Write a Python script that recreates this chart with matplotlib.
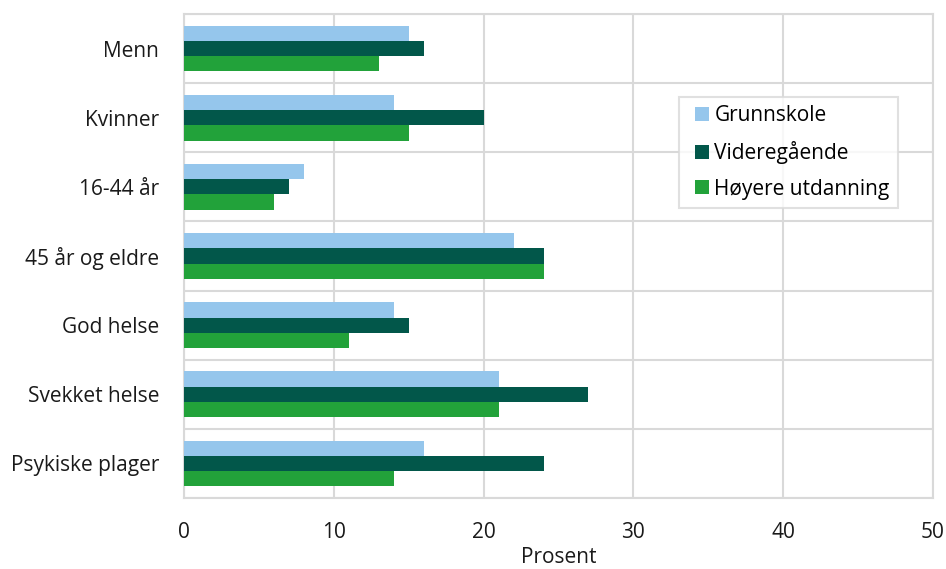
import numpy as np
import matplotlib
matplotlib.use("Agg")
import matplotlib.pyplot as plt
from matplotlib.patches import Rectangle
from matplotlib.container import BarContainer
from matplotlib.legend_handler import HandlerPatch

plt.rcParams["font.family"] = ["Open Sans", "DejaVu Sans"]

categories = ["Menn", "Kvinner", "16-44 år", "45 år og eldre",
              "God helse", "Svekket helse", "Psykiske plager"]
series = ["Grunnskole", "Videregående", "Høyere utdanning"]
grunnskole = [15, 14, 8, 22, 14, 21, 16]
videregaende = [16, 20, 7, 24, 15, 27, 24]
hoyere = [13, 15, 6, 24, 11, 21, 14]
colors = ["#95c6ec", "#02574a", "#22a23a"]
GRID = "#d9d9d9"
FS = 15


def square(legend, orig_handle, xdescent, ydescent, width, height, fontsize):
    sq = 10.0  # points, about 14 px
    return Rectangle((-xdescent + width - sq, -ydescent + (height - sq) / 2),
                     sq, sq)


fig = plt.figure(figsize=(9.46, 5.69), dpi=100)
ax = fig.add_axes([184 / 946, 1 - 498 / 569, (933 - 184) / 946, (498 - 14) / 569])

n = len(categories)
y = np.arange(n)
h = 0.22
for i, (vals, name) in enumerate(zip([grunnskole, videregaende, hoyere], series)):
    ax.barh(y + (i - 1) * h, vals, height=h, color=colors[i], label=name, zorder=3)

ax.set_ylim(n - 0.5, -0.5)
ax.set_xlim(0, 50)
ax.set_xticks(range(0, 51, 10))
ax.set_yticks(y)
ax.set_yticklabels(categories)
ax.set_yticks(np.arange(-0.5, n, 1), minor=True)
ax.grid(True, axis="x", which="major", color=GRID, lw=1.5, zorder=0)
ax.grid(True, axis="y", which="minor", color=GRID, lw=1.5, zorder=0)
ax.tick_params(axis="both", which="both", length=0, labelsize=FS, colors="#1a1a1a")
ax.tick_params(axis="x", pad=17)
ax.tick_params(axis="y", pad=18)
for s in ax.spines.values():
    s.set_color(GRID)
    s.set_linewidth(1.5)
ax.set_xlabel("Prosent", fontsize=FS, color="#1a1a1a", labelpad=3)

hm = {BarContainer: HandlerPatch(patch_func=square,
                                 update_func=lambda p, o: p.update_from(o.patches[0]))}
leg = ax.legend(loc="upper left", bbox_to_anchor=((679 - 184) / 749, 1 - (97 - 14) / 484),
                frameon=True, fancybox=False, fontsize=FS, handlelength=1.05,
                handleheight=0.7, handletextpad=0.25, labelspacing=0.7,
                borderpad=0.4, borderaxespad=0, handler_map=hm)
leg.get_frame().set_edgecolor(GRID)
leg.get_frame().set_linewidth(1.5)

fig.savefig("out.png", dpi=100)
